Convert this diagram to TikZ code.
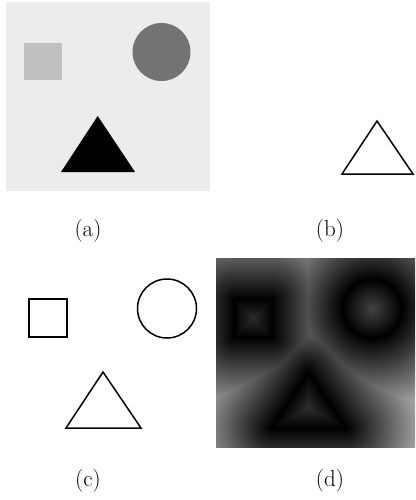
\documentclass[tikz,border=0pt]{standalone}
\usepackage{tikz}
% distance helpers (PostScript calculator code)
\def\segd#1#2#3#4#5{#2 sub exch #1 sub exch 2 copy #4 mul exch #3 mul add #5 div dup 0 lt {pop 0} if dup 1 gt {pop 1} if dup #4 mul 3 -1 roll exch sub exch #3 mul 3 -1 roll exch sub dup mul exch dup mul add sqrt}
\def\sqd#1#2#3{#2 sub abs #3 sub exch #1 sub abs #3 sub 2 copy 2 copy lt {exch} if pop dup 0 gt {pop 0} if neg 3 1 roll dup 0 lt {pop 0} if dup mul exch dup 0 lt {pop 0} if dup mul add sqrt add}
\def\cird#1#2#3{#2 sub dup mul exch #1 sub dup mul add sqrt #3 sub abs}
\def\mn{2 copy gt {exch} if pop}
\edef\distcode{exch 25 sub 3.98 mul 6 add exch 75 exch sub 3.78 mul 2 add
2 copy \sqd{43}{62}{19} 3 1 roll
2 copy \cird{162}{52.5}{29.5} 4 -1 roll \mn\space 3 1 roll
2 copy \segd{98}{116}{-37}{56}{4505} 4 -1 roll \mn\space 3 1 roll
2 copy \segd{61}{172}{75}{0}{5625} 4 -1 roll \mn\space 3 1 roll
\segd{136}{172}{-38}{-56}{4580} \mn\space
0.0088 mul dup 1 gt {pop 1} if dup dup}
\edef\tmpdecl{\noexpand\pgfdeclarefunctionalshading{distfield}{\noexpand\pgfpointorigin}{\noexpand\pgfpoint{100bp}{100bp}}{}{\distcode}}
\tmpdecl
\definecolor{bgA}{gray}{0.925}
\definecolor{sqA}{gray}{0.753}
\definecolor{ciA}{gray}{0.451}
\tikzset{
  outl/.style={draw=black,line width=1.5pt,line join=miter},
  lab/.style={font=\fontsize{23}{28}\selectfont,inner sep=0pt}
}
\begin{document}
\begin{tikzpicture}[x=1pt,y=-1pt]
\useasboundingbox (0,0) rectangle (415,500);
% (a)
\fill[bgA] (6,2) rectangle (210,191);
\fill[sqA] (24,43) rectangle (62,80);
\fill[ciA] (161.5,52) circle[radius=29];
\fill[black] (97.7,116) -- (61,172) -- (135,172) -- cycle;
% (b)
\draw[outl] (377,121) -- (342,174) -- (413,174) -- cycle;
% (c)
\draw[outl] (29,299) rectangle (67,337);
\draw[outl] (167,308.5) circle[radius=29.5];
\draw[outl] (103,372) -- (66,428) -- (141,428) -- cycle;
% (d)
\shade[shading=distfield] (216,258) rectangle (415,447);
% labels
\node[lab] (la) at (88,231) {(a)};
\node[lab] (lb) at (330,231) {(b)};
\node[lab] (lc) at (88,481) {(c)};
\node[lab] (ld) at (330,481) {(d)};
\end{tikzpicture}
\end{document}
